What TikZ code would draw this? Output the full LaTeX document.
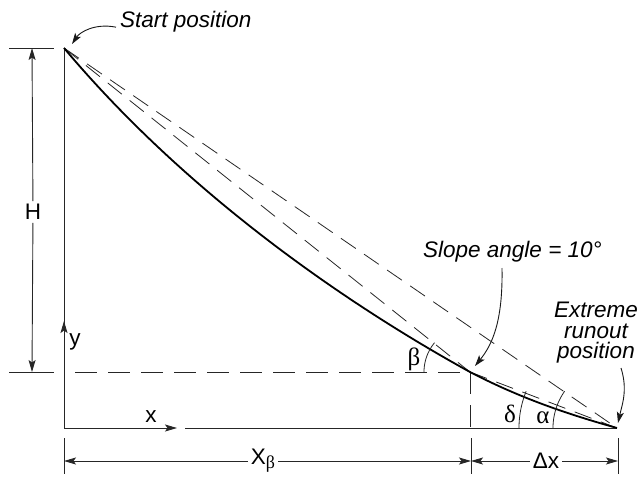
\documentclass[tikz,border=0pt]{standalone}
\usepackage{fontspec}
\setmainfont{Liberation Sans}
\newfontfamily\grkfont{Liberation Serif}
\usetikzlibrary{arrows.meta}
\begin{document}
\begin{tikzpicture}[x=1pt,y=-1pt,
  axisline/.style={line width=0.9pt,draw=black!85},
  dimarrow/.style={line width=0.9pt,draw=black!85,-{Stealth[length=12pt,width=7pt,inset=2.5pt]}},
  callout/.style={line width=0.9pt,draw=black!90,-{Stealth[length=11pt,width=7pt,inset=2.5pt]}},
  dashline/.style={line width=0.8pt,draw=black!85,dash pattern=on 18pt off 10pt},
  hdash/.style={line width=0.8pt,draw=black!85,dash pattern=on 22pt off 11pt},
  profile/.style={line width=1.8pt,draw=black},
  anglearc/.style={line width=0.8pt,draw=black!85},
  itlabel/.style={font=\fontsize{22.5}{20.5}\selectfont\itshape,inner sep=0pt},
  uplabel/.style={font=\fontsize{22.5}{24}\selectfont,inner sep=0pt},
  grklabel/.style={font=\fontsize{25}{26}\selectfont\grkfont,inner sep=0pt},
  dimlabel/.style={font=\fontsize{22.5}{24}\selectfont,inner sep=3pt,fill=white}]
\useasboundingbox (0,0) rectangle (641,480);

% key points
\coordinate (S) at (64,48);
\coordinate (B) at (470,372);
\coordinate (E) at (617,428);
\coordinate (O) at (64,428);
\coordinate (Bfoot) at (470,428);
\coordinate (Hstart) at (75,372);

% axes
\draw[axisline] (S) -- (O);
\coordinate (ytail) at (64,340);
\coordinate (ytip) at (64,321);
\draw[dimarrow] (ytail) -- (ytip);
\coordinate (xtip) at (177,428);
\coordinate (xres) at (185,428);
\draw[dimarrow] (O) -- (xtip);
\draw[axisline] (xres) -- (E);

% reference ticks
\coordinate (tt1) at (9,48);  \coordinate (tt2) at (54,48);
\coordinate (bt1) at (9,372); \coordinate (bt2) at (54,372);
\draw[axisline] (tt1) -- (tt2);
\draw[axisline] (bt1) -- (bt2);

% H dimension
\node[dimlabel] (H) at (33,212) {H};
\coordinate (Htop) at (32,48);
\coordinate (Hbot) at (32,372);
\draw[dimarrow] (H) -- (Htop);
\draw[dimarrow] (H) -- (Hbot);

% vertical ticks at bottom
\coordinate (t1a) at (64,438); \coordinate (t1b) at (64,474);
\coordinate (t2a) at (471,438); \coordinate (t2b) at (471,474);
\coordinate (t3a) at (618,438); \coordinate (t3b) at (618,474);
\draw[axisline] (t1a) -- (t1b);
\draw[axisline] (t2a) -- (t2b);
\draw[axisline] (t3a) -- (t3b);

% bottom dimensions
\node[dimlabel] (Xb) at (263,461) {X\raisebox{-0.35ex}{\fontsize{18}{18}\selectfont\grkfont β}};
\coordinate (Xl) at (64,461);
\coordinate (Xr) at (471,461);
\draw[dimarrow] (Xb) -- (Xl);
\draw[dimarrow] (Xb) -- (Xr);
\node[dimlabel] (Dx) at (546,461) {Δx};
\coordinate (Dl) at (471,461);
\coordinate (Dr) at (618,461);
\draw[dimarrow] (Dx) -- (Dl);
\draw[dimarrow] (Dx) -- (Dr);

% dashed construction lines
\draw[hdash] (Hstart) -- (B);
\draw[hdash] (B) -- (Bfoot);
\draw[dashline] (S) -- (B);
\draw[dashline] (S) -- (E);
\draw[dashline] (B) -- (E);

% path profile
\draw[profile] (S) .. controls (185,192) and (343,302) .. (B)
               .. controls (520,398) and (567,414) .. (E);

% angle arcs
\draw[anglearc] plot[domain=180:219.5,samples=30] ({470+46*cos(\x)},{372+46*sin(\x)});
\draw[anglearc] plot[domain=180:202,samples=30] ({617+98*cos(\x)},{428+98*sin(\x)});
\draw[anglearc] plot[domain=180:215,samples=30] ({617+64*cos(\x)},{428+64*sin(\x)});

% axis and angle labels
\node[uplabel,anchor=base] (ylab) at (75,345) {y};
\node[uplabel,anchor=base] (xlab) at (151,422) {x};
\node[grklabel,anchor=base] (blab) at (414,365) {β};
\node[grklabel,anchor=base] (dlab) at (510,422) {δ};
\node[grklabel,anchor=base] (alab) at (543,423) {α};

% callouts
\node[itlabel,anchor=base west] (start) at (120,27) {Start position};
\coordinate (startarrow) at (72,44);
\draw[callout] ([xshift=-4pt,yshift=-6pt]start.west) .. controls (95,23) and (80,32) .. (startarrow);

\node[itlabel,anchor=base west] (slope) at (423,257) {Slope angle = 10°};
\coordinate (slopearrow) at (475,366);
\draw[callout] (502,268) .. controls (503,322) and (492,345) .. (slopearrow);

\node[itlabel,anchor=north,align=center] (runout) at (596,302) {Extreme\\runout\\position};
\coordinate (runoutarrow) at (618,423);
\draw[callout] (621,368) .. controls (628,390) and (622,405) .. (runoutarrow);
\end{tikzpicture}
\end{document}
